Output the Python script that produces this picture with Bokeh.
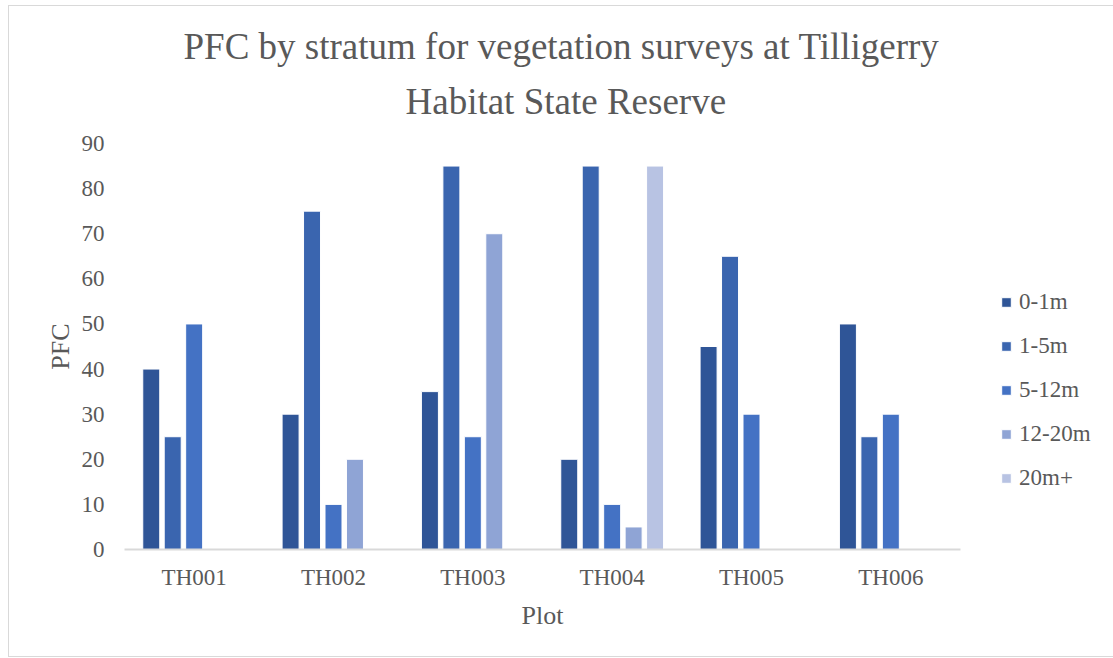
from bokeh.plotting import figure
from bokeh.models import ColumnDataSource, FactorRange, Range1d, Legend, LegendItem, Title
from bokeh.transform import dodge
from bokeh.embed import file_html
from bokeh.resources import INLINE

plots = ["TH001", "TH002", "TH003", "TH004", "TH005", "TH006"]
strata = ["0-1m", "1-5m", "5-12m", "12-20m", "20m+"]
v_0_1 = [40, 30, 35, 20, 45, 50]
v_1_5 = [25, 75, 85, 85, 65, 25]
v_5_12 = [50, 10, 25, 10, 30, 30]
v_12_20 = [0, 20, 70, 5, 0, 0]
v_20p = [0, 0, 0, 85, 0, 0]
series = [v_0_1, v_1_5, v_5_12, v_12_20, v_20p]
colors = ["#2F5597", "#3A65AF", "#4472C4", "#8FA4D5", "#B8C3E3"]
yticks = [0, 10, 20, 30, 40, 50, 60, 70, 80, 90]
title_lines = ["PFC by stratum for vegetation surveys at Tilligerry", "Habitat State Reserve"]

FONT = "Liberation Serif"
TXT = "#595959"

data = {"plot": plots}
for s, vals in zip(strata, series):
    data[s] = vals
src = ColumnDataSource(data)

p = figure(x_range=FactorRange(*plots, range_padding=0), y_range=Range1d(0, 90),
           frame_width=836, frame_height=406, output_backend="svg",
           toolbar_location=None, min_border_left=115, min_border_right=152,
           min_border_top=137, min_border_bottom=107)
p.styles = {"border": "1px solid #d9d9d9", "margin-left": "8px", "margin-top": "5px"}

p.title.visible = False
t2 = Title(text=title_lines[1], align="left", offset=281, standoff=39, vertical_align="top",
           text_font=FONT, text_font_size="37px", text_font_style="normal", text_color=TXT)
t1 = Title(text=title_lines[0], align="left", offset=59, standoff=-11,
           text_font=FONT, text_font_size="37px", text_font_style="normal", text_color=TXT)
p.add_layout(t2, "above")
p.add_layout(t1, "above")

step = 0.154
width = 0.122
renderers = []
for i, (s, c) in enumerate(zip(strata, colors)):
    r = p.vbar(x=dodge("plot", (i - 2) * step, range=p.x_range), top=s, width=width,
               source=src, fill_color=c, line_color="white", line_width=1)
    renderers.append(r)

legend = Legend(items=[LegendItem(label=s, renderers=[r]) for s, r in zip(strata, renderers)],
                location=(40, 58), label_text_font=FONT, label_text_font_size="23px",
                label_text_color=TXT, glyph_width=12, glyph_height=12, spacing=18,
                border_line_color=None, background_fill_alpha=0, margin=0, padding=0,
                label_standoff=7)
p.add_layout(legend, "right")

p.xgrid.visible = False
p.ygrid.visible = False
p.outline_line_color = None

p.yaxis.ticker = yticks
p.yaxis.axis_line_color = None
p.yaxis.major_tick_line_color = None
p.yaxis.minor_tick_line_color = None
p.yaxis.major_label_text_font = FONT
p.yaxis.major_label_text_font_size = "23px"
p.yaxis.major_label_text_color = TXT
p.yaxis.major_label_standoff = 14
p.yaxis.axis_label = "PFC"
p.yaxis.axis_label_text_font = FONT
p.yaxis.axis_label_text_font_size = "26px"
p.yaxis.axis_label_text_font_style = "normal"
p.yaxis.axis_label_text_color = TXT
p.yaxis.axis_label_standoff = 4

p.xaxis.axis_line_color = "#d9d9d9"
p.xaxis.axis_line_width = 2
p.xaxis.major_tick_line_color = None
p.xaxis.minor_tick_line_color = None
p.xaxis.major_label_text_font = FONT
p.xaxis.major_label_text_font_size = "23px"
p.xaxis.major_label_text_color = TXT
p.xaxis.major_label_standoff = 9
p.xaxis.axis_label = "Plot"
p.xaxis.axis_label_text_font = FONT
p.xaxis.axis_label_text_font_size = "26px"
p.xaxis.axis_label_text_font_style = "normal"
p.xaxis.axis_label_text_color = TXT
p.xaxis.axis_label_standoff = 8

open("out.html", "w").write(file_html(p, INLINE))
